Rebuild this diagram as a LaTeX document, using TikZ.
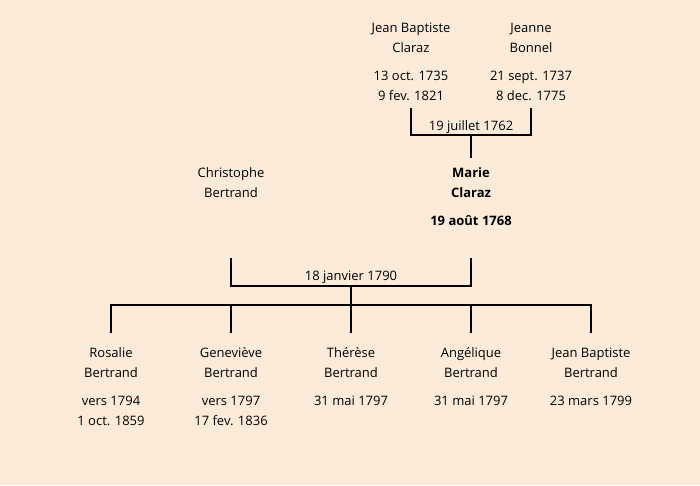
\documentclass[tikz,border=0pt]{standalone}
\usepackage{fontspec}
\setmainfont{Open Sans}
\definecolor{bgpeach}{RGB}{252,235,216}
\begin{document}
\begin{tikzpicture}[x=1pt,y=-1pt,
  person/.style={align=center,anchor=base,inner sep=0pt,font=\fontsize{13}{20}\selectfont},
  lbl/.style={anchor=base,inner sep=0pt,font=\fontsize{13}{20}\selectfont},
  link/.style={line width=2.6pt,line cap=rect}]
\fill[bgpeach] (0,0) rectangle (700,485);
\useasboundingbox (0,0) rectangle (700,485);
% grandparents (anchor = baseline of last line)
\node[person] (jb) at (411,100) {Jean Baptiste\\Claraz\\[8pt]13 oct. 1735\\9 fev. 1821};
\node[person] (jn) at (531,100) {Jeanne\\Bonnel\\[8pt]21 sept. 1737\\8 dec. 1775};
% parents
\node[person] (ch) at (231,197) {Christophe\\Bertrand};
\node[person,font=\fontsize{13}{20}\selectfont\bfseries] (ma) at (471,225) {Marie\\Claraz\\[8pt]19 août 1768};
% children
\node[person] (c1) at (111,425) {Rosalie\\Bertrand\\[8pt]vers 1794\\1 oct. 1859};
\node[person] (c2) at (231,425) {Geneviève\\Bertrand\\[8pt]vers 1797\\17 fev. 1836};
\node[person] (c3) at (351,405) {Thérèse\\Bertrand\\[8pt]31 mai 1797};
\node[person] (c4) at (471,405) {Angélique\\Bertrand\\[8pt]31 mai 1797};
\node[person] (c5) at (591,405) {Jean Baptiste\\Bertrand\\[8pt]23 mars 1799};
% marriage labels
\node[lbl] (d1) at (471,130) {19 juillet 1762};
\node[lbl] (d2) at (351,280) {18 janvier 1790};
% connectors
\coordinate (m1) at (471,135);
\coordinate (m2) at (351,286);
\coordinate (sib) at (351,305);
\draw[link] (jb.south |- 0,109) |- (m1) -| (jn.south |- 0,109);
\draw[link] (m1) -- (ma.north |- 0,157);
\draw[link] (ch.south |- 0,259) |- (m2) -| (ma.south |- 0,259);
\draw[link] (m2) -- (sib);
\draw[link] (c1.north |- sib) -- (c5.north |- sib);
\foreach \c in {c1,c2,c3,c4,c5}{
  \draw[link] (\c.north |- sib) -- (\c.north |- 0,332);
}
\end{tikzpicture}
\end{document}
